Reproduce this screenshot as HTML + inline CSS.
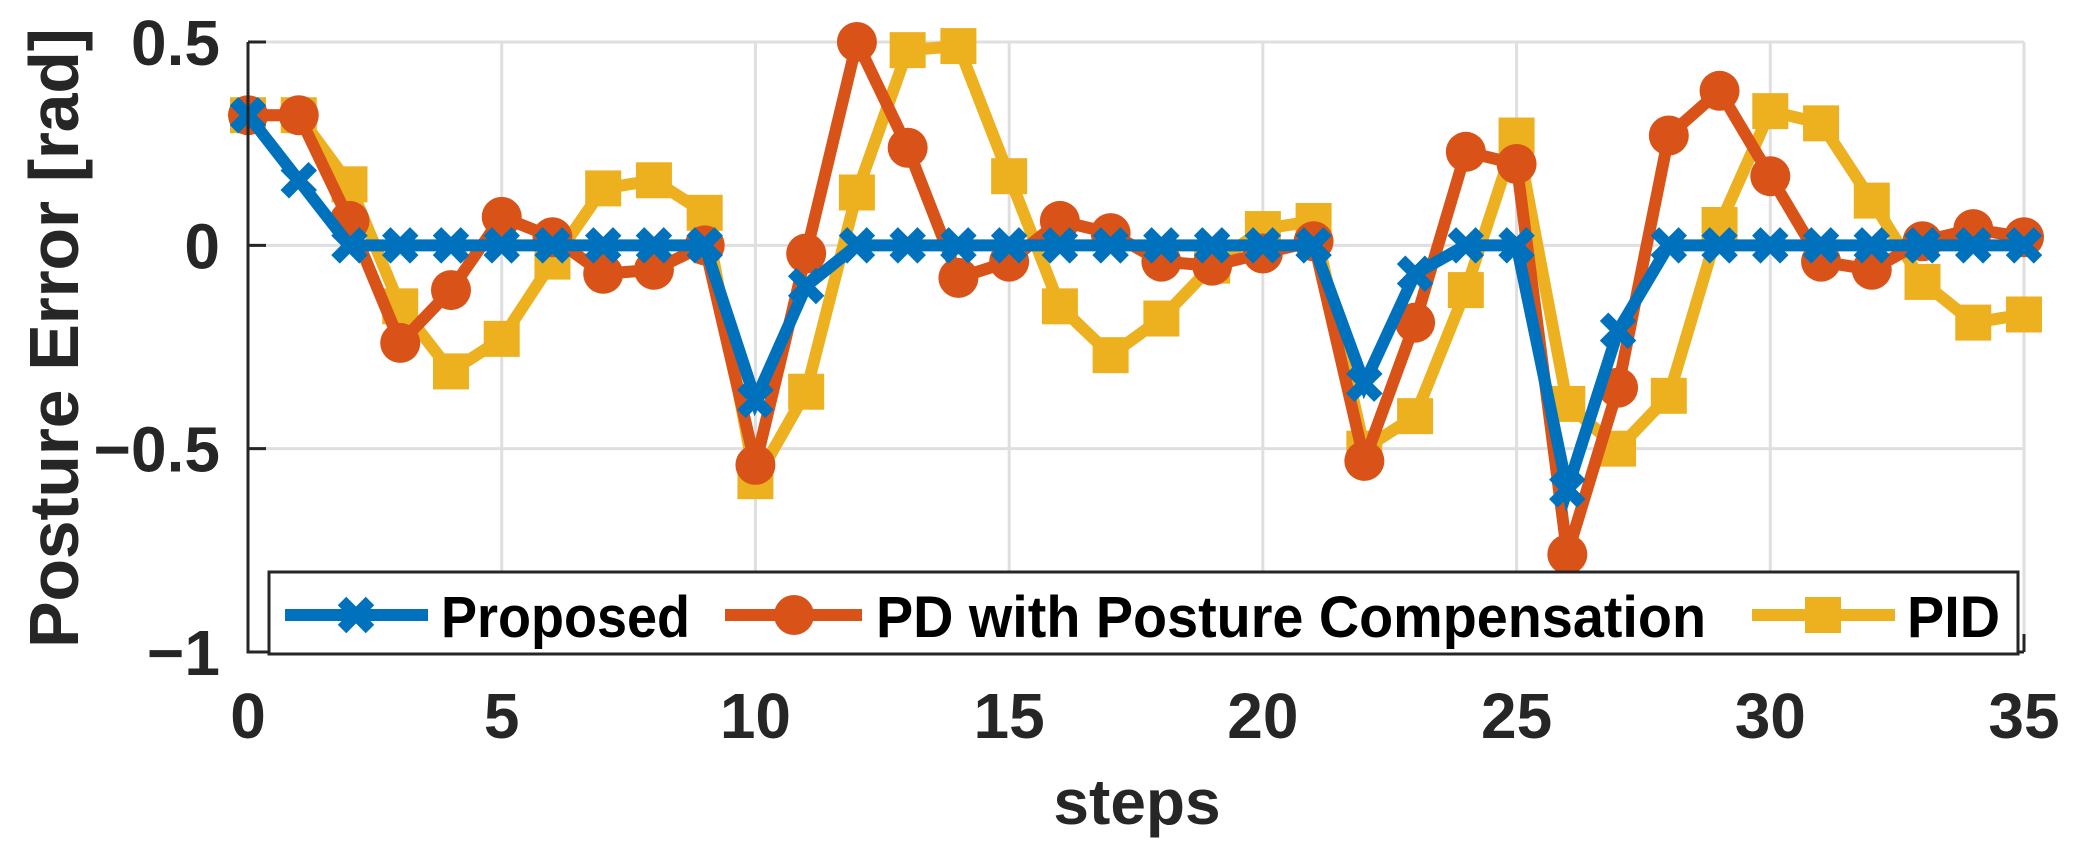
<!DOCTYPE html>
<html><head><meta charset="utf-8">
<style>
html,body{margin:0;padding:0;background:#fff;}
svg{display:block;font-family:"Liberation Sans","Noto Sans CJK JP",sans-serif;}
</style></head>
<body>
<svg id="chart" width="2074" height="848" viewBox="0 0 2074 848" xmlns="http://www.w3.org/2000/svg">
<g id="grid"></g>
<g id="series"></g>
<g id="axes"></g>
<text x="0" y="0" transform="translate(78,338) rotate(-90)" text-anchor="middle" font-size="70" font-weight="bold" fill="#262626" textLength="620">Posture Error [rad]</text>
<text x="1137" y="824" text-anchor="middle" font-size="64" font-weight="bold" fill="#262626">steps</text>
<g id="legend"></g>
</svg>
<script>
const steps = Array.from({length:36},(_,i)=>i);
const proposed = [0.32,0.16,0,0,0,0,0,0,0,0,-0.38,-0.10,0,0,0,0,0,0,0,0,0,0,-0.34,-0.07,0,0,-0.60,-0.21,0,0,0,0,0,0,0,0];
const pdComp = [0.32,0.32,0.06,-0.24,-0.11,0.07,0.02,-0.07,-0.06,0.0,-0.54,-0.02,0.50,0.24,-0.08,-0.04,0.06,0.03,-0.04,-0.05,-0.02,0.01,-0.53,-0.19,0.23,0.20,-0.76,-0.35,0.27,0.38,0.17,-0.04,-0.06,0.01,0.04,0.02];
const pid = [0.32,0.32,0.15,-0.15,-0.31,-0.23,-0.04,0.14,0.16,0.08,-0.58,-0.36,0.13,0.48,0.49,0.17,-0.15,-0.27,-0.18,-0.05,0.04,0.06,-0.50,-0.42,-0.11,0.27,-0.39,-0.50,-0.37,0.05,0.33,0.30,0.11,-0.09,-0.19,-0.17];
const xTicks = [0,5,10,15,20,25,30,35];
const yTicks = [0.5,0,-0.5,-1];
const yTickLabels = ["0.5","0","\u22120.5","\u22121"];
</script>
<script>
const NS="http://www.w3.org/2000/svg";
const X0=248,X1=2024,Y0=42,Y1=652,xMin=0,xMax=35,yMin=-1,yMax=0.5;
const sx=v=>X0+(v-xMin)/(xMax-xMin)*(X1-X0);
const sy=v=>Y1-(v-yMin)/(yMax-yMin)*(Y1-Y0);
function el(tag,attrs,parent){const e=document.createElementNS(NS,tag);for(const k in attrs)e.setAttribute(k,attrs[k]);parent.appendChild(e);return e;}
const grid=document.getElementById('grid'),axes=document.getElementById('axes'),ser=document.getElementById('series'),leg=document.getElementById('legend');
xTicks.forEach(t=>{
  const g=el('line',{x1:sx(t),x2:sx(t),y1:Y0,y2:Y1,stroke:'#dfdfdf','stroke-width':3},grid);
  
  
  const tk=el('line',{x1:sx(t),x2:sx(t),y1:Y1,y2:Y1-18,stroke:'#262626','stroke-width':3},axes);
  
  
  const lb=el('text',{x:sx(t),y:738,'text-anchor':'middle','font-size':64,'font-weight':'bold',fill:'#262626'},axes);
  lb.textContent=t;
  
  
});
yTicks.forEach((t,i)=>{
  const g=el('line',{x1:X0,x2:X1,y1:sy(t),y2:sy(t),stroke:'#dfdfdf','stroke-width':3},grid);
  
  
  const tk=el('line',{x1:X0,x2:X0+18,y1:sy(t),y2:sy(t),stroke:'#262626','stroke-width':3},axes);
  
  
  const lb=el('text',{x:220,y:sy(t)+23,'text-anchor':'end','font-size':64,'font-weight':'bold',fill:'#262626'},axes);
  lb.textContent=yTickLabels[i];
  
  
});
const ya=el('line',{x1:X0,x2:X0,y1:Y0,y2:Y1+1.5,stroke:'#262626','stroke-width':3},axes);


const xa=el('line',{x1:X0,x2:X1,y1:Y1,y2:Y1,stroke:'#262626','stroke-width':3},axes);



function marker(type,cx,cy,color,parent){
  let m;
  if(type==='circle'){m=el('circle',{cx:cx,cy:cy,r:20,fill:color},parent);}
  else if(type==='square'){m=el('rect',{x:cx-18,y:cy-18,width:36,height:36,fill:color},parent);}
  else{m=el('path',{d:`M${cx-14},${cy-14}L${cx+14},${cy+14}M${cx-14},${cy+14}L${cx+14},${cy-14}`,stroke:color,'stroke-width':12,fill:'none'},parent);}
  return m;
}
const seriesDefs=[
  {vals:pid,color:'#EDB120',m:'square',name:'pid'},
  {vals:pdComp,color:'#D95319',m:'circle',name:'pd-with-posture-compensation'},
  {vals:proposed,color:'#0072BD',m:'x',name:'proposed'}
];
seriesDefs.forEach(s=>{
  const g=el('g',{},ser);
  
  
  const pts=steps.map((x,i)=>sx(x)+','+sy(s.vals[i])).join(' ');
  const pl=el('polyline',{points:pts,fill:'none',stroke:s.color,'stroke-width':12,'stroke-linejoin':'miter'},g);
  
  
  steps.forEach((x,i)=>{
    const mk=marker(s.m,sx(x),sy(s.vals[i]),s.color,g);
    
    
  });
});
// legend
const box=el('rect',{x:269,y:572,width:1749,height:82,fill:'#fff',stroke:'#262626','stroke-width':3},leg);


const entries=[
  {l1:285,l2:428,mx:356,tx:441,tl:249,color:'#0072BD',m:'x',label:'Proposed',name:'legend-entry-proposed'},
  {l1:725,l2:862,mx:794,tx:876,tl:830,color:'#D95319',m:'circle',label:'PD with Posture Compensation',name:'legend-entry-pd'},
  {l1:1752,l2:1895,mx:1823,tx:1907,tl:93,color:'#EDB120',m:'square',label:'PID',name:'legend-entry-pid'}
];
entries.forEach(e=>{
  const g=el('g',{},leg);
  
  
  el('line',{x1:e.l1,x2:e.l2,y1:615,y2:615,stroke:e.color,'stroke-width':12},g);
  marker(e.m,e.mx,615,e.color,g);
  const t=el('text',{x:e.tx,y:637,'font-size':58,'font-weight':'bold',fill:'#000',textLength:e.tl,lengthAdjust:'spacingAndGlyphs'},g);
  t.textContent=e.label;
});
</script>
</body></html>
